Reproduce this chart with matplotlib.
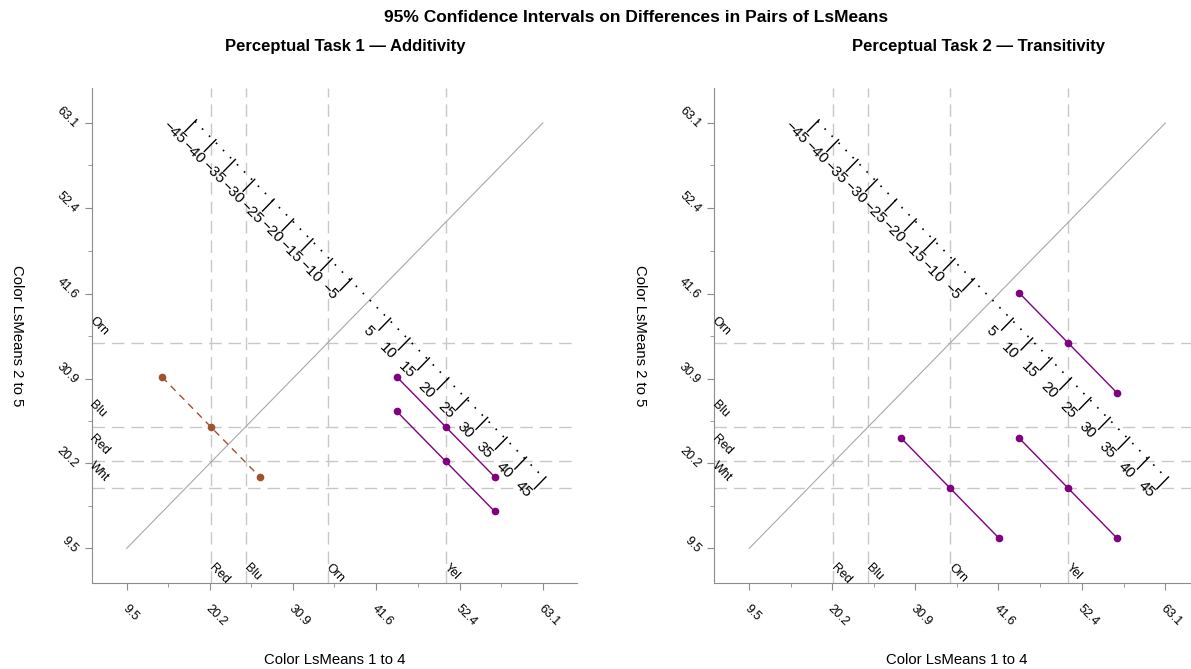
import matplotlib
matplotlib.use('Agg')
import matplotlib.pyplot as plt
import matplotlib.transforms as mtransforms

# axis ticks (same for both panels)
tick_vals = [9.5, 20.2, 30.9, 41.6, 52.4, 63.1]
tick_labels = ['9.5', '20.2', '30.9', '41.6', '52.4', '63.1']
minor_vals = [14.85, 25.55, 36.25, 47.0, 57.75]

# color LsMeans
x_levels = ['Red', 'Blu', 'Orn', 'Yel']
x_means = [20.35, 24.85, 35.4, 50.6]
y_levels = ['Orn', 'Blu', 'Red', 'Wht']
y_means = [35.35, 24.8, 20.45, 17.05]

# pairs shown in each panel: x mean, y mean, half width of CI on difference, significant?
p1_x = [20.35, 50.6, 50.6]
p1_y = [24.8, 24.8, 20.45]
p1_half = [12.6, 12.6, 12.6]
p1_sig = [False, True, True]

p2_x = [50.6, 35.4, 50.6]
p2_y = [35.35, 17.05, 17.05]
p2_half = [12.6, 12.6, 12.6]
p2_sig = [True, True, True]

# difference scale
scale_center = 40.8
scale_diffs = [-45, -40, -35, -30, -25, -20, -15, -10, -5, 5, 10, 15, 20, 25, 30, 35, 40, 45]

titles = ['Perceptual Task 1 \u2014 Additivity', 'Perceptual Task 2 \u2014 Transitivity']

W, H = 1191, 669
fig = plt.figure(figsize=(W / 100, H / 100), dpi=100)
plt.rcParams['font.family'] = ['Liberation Sans', 'DejaVu Sans']

fig.text(636 / W, 1 - 18 / H, '95% Confidence Intervals on Differences in Pairs of LsMeans',
         ha='center', va='center', fontsize=12.5, fontweight='bold')

lefts = [91.7, 714.3]
ylab_x = [17, 640]
centers = [345, 979]
data = [(p1_x, p1_y, p1_half, p1_sig), (p2_x, p2_y, p2_half, p2_sig)]

spine_col = '#8c8c8c'
ref_col = '#c8c8c8'

for i in range(2):
    ax = fig.add_axes([lefts[i] / W, (H - 583.3) / H, 485.3 / W, 495.3 / H])
    ax.set_xlim(5.0, 67.5)
    ax.set_ylim(5.1, 67.5)
    for s in ['top', 'right']:
        ax.spines[s].set_visible(False)
    for s in ['left', 'bottom']:
        ax.spines[s].set_color(spine_col)

    ax.set_xticks(tick_vals)
    ax.set_yticks(tick_vals)
    ax.set_xticks(minor_vals, minor=True)
    ax.set_yticks(minor_vals, minor=True)
    ax.tick_params(which='major', length=5, color=spine_col, labelsize=9)
    ax.tick_params(which='minor', length=3, color=spine_col)
    ax.tick_params(axis='x', pad=9)
    ax.tick_params(axis='y', pad=6.5)
    ax.set_xticklabels(tick_labels, rotation=-45, ha='left', va='top', rotation_mode='anchor')
    ax.set_yticklabels(tick_labels, rotation=-45, ha='right', va='center', rotation_mode='anchor')
    xoff = mtransforms.ScaledTranslation(1.2 / 72, 0, fig.dpi_scale_trans)
    for lab in ax.get_xticklabels():
        lab.set_transform(lab.get_transform() + xoff)
    yoff = mtransforms.ScaledTranslation(0, -2.2 / 72, fig.dpi_scale_trans)
    for lab in ax.get_yticklabels():
        lab.set_transform(lab.get_transform() + yoff)

    # reference lines at the means
    for m, name in zip(x_means, x_levels):
        ax.axvline(m, color=ref_col, lw=1, ls=(0, (9, 5)), zorder=1)
        ax.annotate(name, xy=(m, 0), xycoords=('data', 'axes fraction'),
                    xytext=(3.0, 15.5), textcoords='offset points',
                    rotation=-45, rotation_mode='anchor', ha='left', va='top', fontsize=9)
    for m, name in zip(y_means, y_levels):
        ax.axhline(m, color=ref_col, lw=1, ls=(0, (9, 5)), zorder=1)
        ax.annotate(name, xy=(0, m), xycoords=('axes fraction', 'data'),
                    xytext=(2.6, 20.4), textcoords='offset points',
                    rotation=-45, rotation_mode='anchor', ha='left', va='top', fontsize=9)

    # diagonal
    ax.plot([tick_vals[0], tick_vals[-1]], [tick_vals[0], tick_vals[-1]], color='#a8a8a8', lw=0.8, zorder=2)

    # difference scale
    c = scale_center
    ax.plot([c + scale_diffs[0] / 2, c + scale_diffs[-1] / 2],
            [c - scale_diffs[0] / 2, c - scale_diffs[-1] / 2],
            color='black', lw=1.2, ls=(0, (1, 5)), zorder=3)
    for d in scale_diffs:
        sx, sy = c + d / 2, c - d / 2
        ax.plot([sx - 1.3, sx + 0.2], [sy - 1.3, sy + 0.2], color='black', lw=1, zorder=3)
        lab = '\u2212' + str(-d) if d < 0 else str(d)
        ax.text(sx - 2.7, sy - 1.4, lab, rotation=-45, rotation_mode='anchor',
                ha='center', va='center', fontsize=11)

    # confidence intervals
    xs, ys, hs, sig = data[i]
    for x, y, h, s in zip(xs, ys, hs, sig):
        col = '#800080' if s else '#a0522d'
        ls = '-' if s else (0, (5, 4))
        ax.plot([x - h / 2, x, x + h / 2], [y + h / 2, y, y - h / 2], color=col, ls=ls,
                lw=1, marker='o', markersize=4.5, zorder=4)

    ax.set_xlabel('Color LsMeans 1 to 4', fontsize=10.7)
    ax.xaxis.set_label_coords(0.5, -(660 - 583.3) / 495.3)
    ax.xaxis.label.set_va('center')
    ax.set_ylabel('Color LsMeans 2 to 5', fontsize=10.7, rotation=-90)
    ax.yaxis.set_label_coords(-(lefts[i] - ylab_x[i]) / 485.3, 0.5)
    ax.yaxis.label.set_va('center')

    fig.text(centers[i] / W, 1 - 46 / H, titles[i], ha='center', va='center',
             fontsize=12, fontweight='bold')

fig.savefig('out.png', dpi=100)
